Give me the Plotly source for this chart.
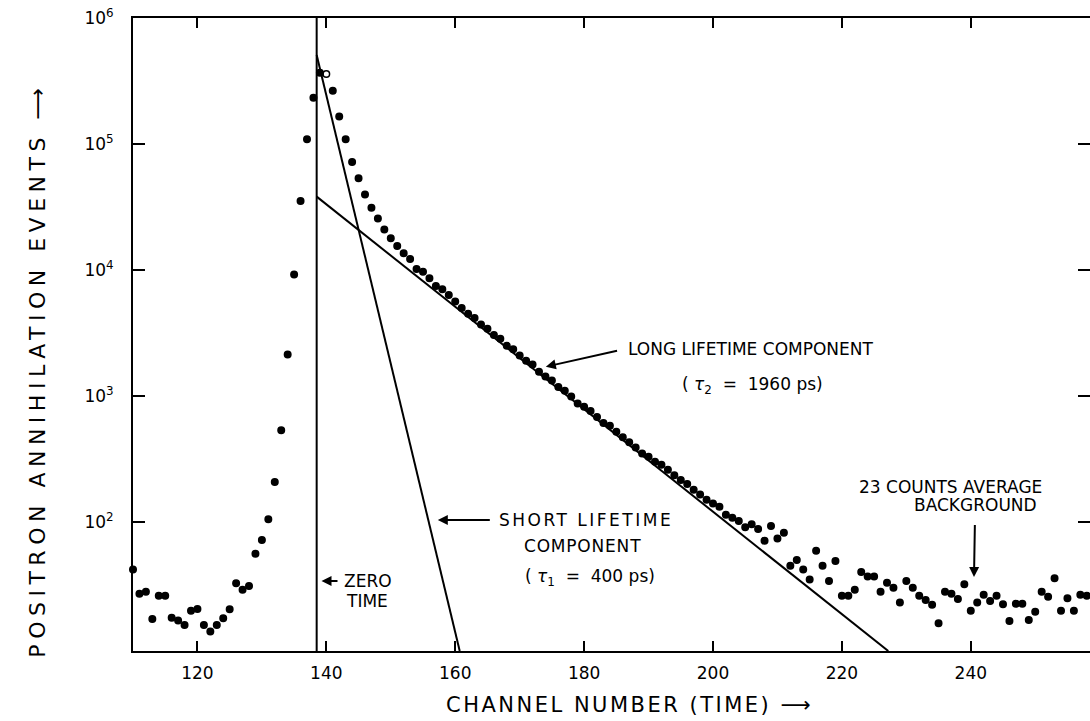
import plotly.graph_objects as go

# ---------------- data ----------------
channels = list(range(110, 259))
counts = [
    42, 27, 28, 17, 26, 26, 17.4, 16.5, 15.2, 19.7,            # 110-119
    20.4, 15.2, 13.5, 15.2, 17.2, 20.3, 32.6, 29, 31, 56,      # 120-129
    72, 105, 208, 535, 2130, 9190, 35300, 109000, 233000, 368000,  # 130-139
    359000, 265000, 165000, 109000, 72000, 53400, 39700, 31200, 25600, 21000,  # 140-149
    17900, 15500, 13600, 12200, 10200, 9700, 8600, 7460, 7030, 6340,  # 150-159
    5610, 5000, 4500, 4150, 3700, 3420, 3050, 2850, 2500, 2350,  # 160-169
    2100, 1900, 1780, 1560, 1430, 1330, 1180, 1100, 990, 870,   # 170-179
    820, 760, 680, 610, 580, 520, 470, 430, 390, 350,           # 180-189
    330, 300, 285, 260, 235, 215, 200, 180, 165, 150,           # 190-199
    140, 132, 114, 108, 102, 91, 96, 88, 71, 93,                # 200-209
    74, 82, 45, 50, 42, 35, 59, 45, 34, 49,                     # 210-219
    26, 26, 29, 40, 37, 37, 28, 33, 30, 23,                     # 220-229
    34, 30, 26, 24, 22, 15.7, 28, 27, 24.5, 32,                 # 230-239
    19.7, 23, 26.4, 23.6, 26, 22.2, 16.4, 22.4, 22.4, 16.7,     # 240-249
    19.4, 28, 25.5, 35.7, 19.7, 24.8, 19.7, 26.4, 26,           # 250-258
]
open_channels = [140]

zero_time_x = [138.5, 138.5]
zero_time_y = [9.46, 1e6]
short_x = [138.5, 160.7]
short_y = [508000, 9.46]
long_x = [138.5, 227.2]
long_y = [38200, 9.46]

x_ticks = [120, 140, 160, 180, 200, 220, 240, 260]
y_ticks = [1e2, 1e3, 1e4, 1e5, 1e6]
y_ticktext = ["10<sup>2</sup>", "10<sup>3</sup>", "10<sup>4</sup>", "10<sup>5</sup>", "10<sup>6</sup>"]

FONT = "DejaVu Sans"


def spaced(text, px):
    return '<span style="letter-spacing:%spx">%s</span>' % (px, text)


fig = go.Figure()

fig.add_trace(go.Scatter(x=zero_time_x, y=zero_time_y, mode="lines",
                         line=dict(color="black", width=2), hoverinfo="skip"))
fig.add_trace(go.Scatter(x=short_x, y=short_y, mode="lines",
                         line=dict(color="black", width=2), hoverinfo="skip"))
fig.add_trace(go.Scatter(x=long_x, y=long_y, mode="lines",
                         line=dict(color="black", width=2), hoverinfo="skip"))

symbols = ["circle-open" if c in open_channels else "circle" for c in channels]
fig.add_trace(go.Scatter(x=channels, y=counts, mode="markers",
                         marker=dict(color="black", size=6.5, symbol=symbols,
                                     line=dict(color="black", width=1.5)),
                         cliponaxis=False))

# invisible trace to carry the right-hand tick marks
fig.add_trace(go.Scatter(x=[channels[0]], y=[counts[0]], yaxis="y2", mode="markers",
                         marker=dict(opacity=0), hoverinfo="skip"))

ann_font = dict(family=FONT, size=17, color="black")
arrow = dict(showarrow=True, arrowhead=2, arrowsize=1, arrowwidth=2, arrowcolor="black")
annotations = [
    # long lifetime component (text carries the arrow)
    dict(x=174.06, y=3.2325, ax=80, ay=-18, text="LONG LIFETIME COMPONENT",
         xanchor="left", yanchor="middle", startstandoff=9, font=ann_font, **arrow),
    dict(x=206.1, y=3.087, text="( <i>τ</i><sub>2</sub>  =  1960 ps)", xanchor="center",
         yanchor="middle", showarrow=False, font=ann_font),
    # short lifetime component
    dict(x=157.3, y=2.016, ax=59, ay=0, text=spaced("SHORT LIFETIME", 2.5),
         xanchor="left", yanchor="middle", startstandoff=7, font=ann_font, **arrow),
    dict(x=179.8, y=1.810, text=spaced("COMPONENT", 0.8), xanchor="center", yanchor="middle",
         showarrow=False, font=ann_font),
    dict(x=180.9, y=1.556, text="( <i>τ</i><sub>1</sub>  =  400 ps)", xanchor="center",
         yanchor="middle", showarrow=False, font=ann_font),
    # zero time
    dict(x=139.25, y=1.532, ax=20, ay=0, text="ZERO", xanchor="left", yanchor="middle",
         startstandoff=4, font=ann_font, **arrow),
    dict(x=142.8, y=1.373, text="TIME", xanchor="left", yanchor="middle",
         showarrow=False, font=ann_font),
    # background
    dict(x=236.9, y=2.278, text="23 COUNTS AVERAGE", xanchor="center", yanchor="middle",
         showarrow=False, font=ann_font),
    dict(x=240.5, y=1.563, ax=1, ay=-60, text="BACKGROUND", xanchor="center",
         yanchor="bottom", startstandoff=8, font=ann_font, **arrow),
    # axis titles
    dict(xref="paper", yref="paper", x=0.519, y=-0.0853,
         text=spaced("CHANNEL NUMBER (TIME) ⟶", 2.5),
         xanchor="center", yanchor="middle", showarrow=False,
         font=dict(family=FONT, size=21, color="black")),
    dict(xref="paper", yref="paper", x=-0.0996, y=0.444,
         text=spaced("POSITRON ANNIHILATION EVENTS ⟶", 5.5), textangle=-90,
         xanchor="center", yanchor="middle", showarrow=False,
         font=dict(family=FONT, size=22, color="black")),
]

fig.update_layout(
    width=1090, height=721,
    margin=dict(l=133, r=0, t=18, b=70),
    paper_bgcolor="white", plot_bgcolor="white",
    showlegend=False,
    font=dict(family=FONT, color="black"),
    annotations=annotations,
    xaxis=dict(range=[110, 258.5], tickvals=x_ticks, ticks="inside", ticklen=10,
               tickwidth=2, tickcolor="black", showline=True, linecolor="black",
               linewidth=2, mirror="ticks", showgrid=False, zeroline=False,
               tickfont=dict(family=FONT, size=17, color="black"), ticklabelstandoff=6),
    yaxis=dict(type="log", range=[0.976, 6.0], tickvals=y_ticks, ticktext=y_ticktext,
               ticks="inside", ticklen=12, tickwidth=2, tickcolor="black",
               showline=True, linecolor="black", linewidth=2, mirror=False,
               showgrid=False, zeroline=False,
               tickfont=dict(family=FONT, size=17, color="black"), ticklabelstandoff=14),
    yaxis2=dict(type="log", range=[0.976, 6.0], overlaying="y", side="right",
                tickvals=y_ticks, ticks="inside", ticklen=12, tickwidth=2,
                tickcolor="black", showline=False, showticklabels=False,
                showgrid=False, zeroline=False),
)

fig.write_html("out.html")
